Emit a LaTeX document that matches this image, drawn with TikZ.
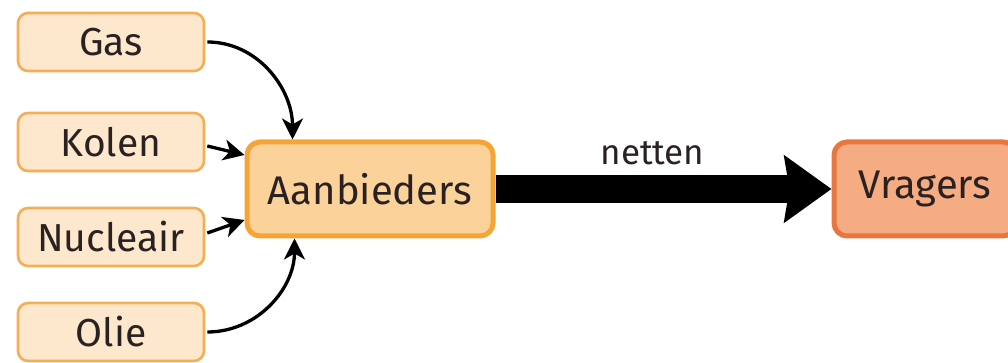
\documentclass[tikz,border=0pt]{standalone}
\usepackage{fontspec}
\setmainfont{Fira Sans}
\usetikzlibrary{arrows.meta}
\definecolor{srcfill}{HTML}{FDE8CD}
\definecolor{srcline}{HTML}{F5AE55}
\definecolor{aanfill}{HTML}{FBD39A}
\definecolor{aanline}{HTML}{F6A436}
\definecolor{vrfill}{HTML}{F6AC82}
\definecolor{vrline}{HTML}{E8763E}
\definecolor{txt}{HTML}{2A2222}
\begin{document}
\begin{tikzpicture}[x=1pt,y=1pt,
  src/.style={draw=srcline, fill=srcfill, line width=2.6pt, rounded corners=10pt,
    minimum width=186pt, minimum height=58pt, inner sep=0pt,
    font=\fontsize{39}{46}\selectfont, text=txt},
  big/.style={line width=5pt, rounded corners=13pt, minimum height=94pt, inner sep=0pt,
    font=\fontsize{40}{48}\selectfont, text=txt},
  feed/.style={line width=3.3pt, draw=black, -{Stealth[length=21pt,width=21pt,inset=6pt]}},
  flow/.style={line width=28pt, draw=black, -{Stealth[length=47pt,width=66pt,inset=5pt]}},
  lbl/.style={font=\fontsize{35}{42}\selectfont, text=txt}]
\useasboundingbox (0,0) rectangle (1008,363);
\clip (0,0) rectangle (1008,363);
\node[src] (gas) at (111,321) {Gas};
\node[src] (kolen) at (111,221) {Kolen};
\node[src] (nucl) at (111,126) {Nucleair};
\node[src] (olie) at (111,31) {Olie};
\node[big, draw=aanline, fill=aanfill, minimum width=246pt] (aan) at (370,174) {Aanbieders};
\node[big, draw=vrline, fill=vrfill, minimum width=182pt] (vr) at (925,174) {Vragers};
\coordinate (aantop) at ([xshift=48pt]aan.north west);
\coordinate (aanbot) at ([xshift=50pt]aan.south west);
\coordinate (aanhi) at ([yshift=34pt]aan.west);
\coordinate (aanlo) at ([yshift=-31pt]aan.west);
\draw[feed] ([xshift=2pt]gas.east) to[out=0,in=90] (aantop);
\draw[feed] ([xshift=2pt,yshift=-4pt]kolen.east) -- (aanhi);
\draw[feed] ([xshift=2pt,yshift=4pt]nucl.east) -- (aanlo);
\draw[feed] ([xshift=2pt]olie.east) to[out=0,in=-90] (aanbot);
\draw[flow] (aan.east) -- node[lbl, anchor=base, xshift=-11pt, yshift=24pt] {netten} (vr.west);
\end{tikzpicture}
\end{document}
